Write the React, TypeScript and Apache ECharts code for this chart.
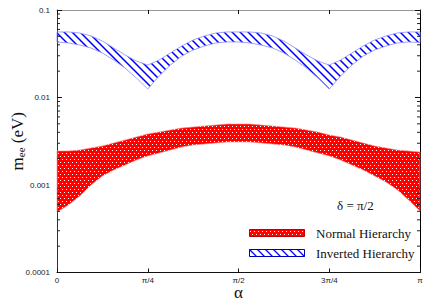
import React, { useEffect, useRef } from "react";
import * as echarts from "echarts";

// alpha in units of pi
const alphaOverPi = [
  0, 0.03125, 0.0625, 0.09375, 0.125, 0.15625, 0.1875, 0.21875, 0.25,
  0.28125, 0.3125, 0.34375, 0.375, 0.40625, 0.4375, 0.46875, 0.5,
  0.53125, 0.5625, 0.59375, 0.625, 0.65625, 0.6875, 0.71875, 0.75,
  0.78125, 0.8125, 0.84375, 0.875, 0.90625, 0.9375, 0.96875, 1,
];

const xTickLabels = ["0", "π/4", "π/2", "3π/4", "π"];
const yTickLabels = ["0.0001", "0.001", "0.01", "0.1"];

const minorTickValues = [
  0.0002, 0.0003, 0.0004, 0.0005, 0.0006, 0.0007, 0.0008, 0.0009,
  0.002, 0.003, 0.004, 0.005, 0.006, 0.007, 0.008, 0.009,
  0.02, 0.03, 0.04, 0.05, 0.06, 0.07, 0.08, 0.09,
];

// Normal hierarchy band (eV)
const nhUpper = [
  0.00245, 0.00245, 0.00251, 0.00265, 0.00279, 0.00302, 0.00327, 0.00354, 0.00383,
  0.00403, 0.00425, 0.00448, 0.0046, 0.00473, 0.00485, 0.00498, 0.00498,
  0.00498, 0.00485, 0.00473, 0.0046, 0.00448, 0.00425, 0.00403, 0.00373,
  0.00354, 0.00327, 0.00302, 0.00279, 0.00265, 0.00251, 0.00245, 0.00238,
];
const nhLower = [
  0.000491, 0.00059, 0.000748, 0.001, 0.00127, 0.00148, 0.00169, 0.00193, 0.00215,
  0.00232, 0.00251, 0.00272, 0.00286, 0.00294, 0.00302, 0.0031, 0.0031,
  0.0031, 0.00302, 0.00294, 0.00286, 0.00272, 0.00251, 0.00232, 0.00215,
  0.00193, 0.00169, 0.00148, 0.00127, 0.00108, 0.00088, 0.000674, 0.000505,
];

// Inverted hierarchy band (eV)
const ihUpper = [
  0.0561, 0.0561, 0.0546, 0.0505, 0.0442, 0.0368, 0.0306, 0.0261, 0.0235,
  0.0268, 0.0323, 0.0388, 0.0454, 0.0505, 0.0546, 0.0561, 0.0561,
  0.0561, 0.0546, 0.0505, 0.0442, 0.0368, 0.0306, 0.0261, 0.0235,
  0.0268, 0.0323, 0.0388, 0.0454, 0.0505, 0.0546, 0.0561, 0.0561,
];
const ihLower = [
  0.0431, 0.042, 0.0398, 0.0368, 0.0323, 0.0268, 0.0217, 0.0167, 0.0125,
  0.0176, 0.0235, 0.0298, 0.0349, 0.0388, 0.042, 0.0431, 0.0431,
  0.042, 0.0398, 0.0368, 0.0323, 0.0268, 0.0217, 0.0167, 0.0125,
  0.0176, 0.0235, 0.0298, 0.0349, 0.0388, 0.042, 0.0431, 0.0425,
];

const SERIF = '"Liberation Serif", "Times New Roman", serif';
const SANS = '"Liberation Sans", Arial, sans-serif';
const RED = "#ff0000";
const DOT = "#ffffff";
const BLUE = "#0000ff";
const HATCH = 8;

// white dots (small squares) covering a box, diagonal lattice
function dotSquares(x0: number, x1: number, y0: number, y1: number, z?: number) {
  const out: any[] = [];
  const sy = Math.floor(y0 / 3) * 3;
  for (let y = sy; y <= y1; y += 3) {
    const shift = (y / 3) % 2 === 0 ? 0 : 2;
    const sx = Math.floor(x0 / 4) * 4 + shift;
    for (let x = sx; x <= x1; x += 4) {
      const el: any = { type: "rect", shape: { x, y, width: 1, height: 1 }, style: { fill: DOT } };
      if (z != null) el.z = z;
      out.push(el);
    }
  }
  return out;
}

// "\" hatch lines covering a box (to be clipped)
function hatchLines(x0: number, x1: number, y0: number, y1: number) {
  const out: any[] = [];
  const cMin = Math.floor((x0 - y1) / HATCH) * HATCH;
  const cMax = x1 - y0;
  for (let c = cMin; c <= cMax; c += HATCH) {
    out.push({
      type: "line",
      shape: { x1: c + y0 - 2, y1: y0 - 2, x2: c + y1 + 2, y2: y1 + 2 },
      style: { stroke: BLUE, lineWidth: 1.5 },
    });
  }
  return out;
}

function bandRenderer(xs: number[], upper: number[], lower: number[], kind: "dots" | "hatch") {
  return (params: any, api: any) => {
    if (params.dataIndex !== 0) return null;
    const pts: number[][] = [];
    for (let i = 0; i < xs.length; i++) pts.push(api.coord([xs[i], upper[i]]));
    for (let i = xs.length - 1; i >= 0; i--) pts.push(api.coord([xs[i], lower[i]]));
    let bx0 = Infinity, bx1 = -Infinity, by0 = Infinity, by1 = -Infinity;
    for (const p of pts) {
      bx0 = Math.min(bx0, p[0]); bx1 = Math.max(bx1, p[0]);
      by0 = Math.min(by0, p[1]); by1 = Math.max(by1, p[1]);
    }
    const clip = { type: "polygon", shape: { points: pts } };
    if (kind === "dots") {
      return {
        type: "group",
        children: [
          { type: "polygon", shape: { points: pts }, style: { fill: RED, stroke: "#ff8a8a", lineWidth: 0.6 } },
          { type: "group", clipPath: clip, children: dotSquares(bx0, bx1, by0, by1) },
        ],
      };
    }
    return {
      type: "group",
      children: [
        { type: "group", clipPath: clip, children: hatchLines(bx0, bx1, by0, by1) },
        { type: "polygon", shape: { points: pts }, style: { fill: "none", stroke: "#8c8cff", lineWidth: 0.8 } },
      ],
    };
  };
}

function clippedHatch(x0: number, y0: number, w: number, h: number) {
  const out: any[] = [];
  const x1 = x0 + w, y1 = y0 + h;
  const cMin = Math.floor((x0 - y1) / HATCH) * HATCH;
  for (let c = cMin; c <= x1 - y0; c += HATCH) {
    const sx = Math.max(x0, y0 + c);
    const ex = Math.min(x1, y1 + c);
    if (ex <= sx) continue;
    out.push({
      type: "line",
      shape: { x1: sx, y1: sx - c, x2: ex, y2: ex - c },
      style: { stroke: BLUE, lineWidth: 1.3 },
      z: 10,
    });
  }
  return out;
}

export default function App() {
  const ref = useRef<HTMLDivElement>(null);

  useEffect(() => {
    if (!ref.current) return;
    const chart = echarts.init(ref.current, undefined, { renderer: "svg" });

    const tickStyle = { color: "#111", width: 1 };

    chart.setOption({
      animation: false,
      grid: { left: 57, right: 16, top: 10, bottom: 27.5, containLabel: false, outerBoundsMode: "none" },
      xAxis: [
        {
          type: "value",
          min: 0,
          max: 1,
          interval: 0.25,
          position: "bottom",
          axisLine: { show: true, onZero: false, lineStyle: { color: "#111", width: 1 } },
          axisTick: { show: true, inside: true, length: 4, lineStyle: tickStyle },
          axisLabel: {
            formatter: (v: number) => xTickLabels[Math.round(v * 4)],
            fontSize: 8,
            fontFamily: SANS,
            color: "#222",
            margin: 4,
          },
          splitLine: { show: false },
          name: "α",
          nameLocation: "middle",
          nameGap: 14,
          nameMoveOverlap: false,
          nameTextStyle: { fontFamily: SERIF, fontSize: 17, lineHeight: 12, color: "#111" },
        },
        {
          type: "value",
          min: 0,
          max: 1,
          interval: 0.25,
          position: "top",
          axisLine: { show: true, onZero: false, lineStyle: { color: "#999", width: 1 } },
          axisTick: { show: true, inside: true, length: 4, lineStyle: tickStyle },
          axisLabel: { show: false },
          splitLine: { show: false },
        },
      ],
      yAxis: [
        {
          type: "log",
          logBase: 10,
          min: 0.0001,
          max: 0.1,
          position: "left",
          axisLine: { show: true, onZero: false, lineStyle: { color: "#333", width: 1 } },
          axisTick: { show: true, inside: true, length: 5, lineStyle: tickStyle },
          axisLabel: {
            formatter: (v: number) => yTickLabels[Math.round(Math.log10(v)) + 4],
            fontSize: 8,
            fontFamily: SANS,
            color: "#222",
            margin: 7,
          },
          splitLine: { show: false },
          name: "{m|m}{s|ee}{m| (eV)}",
          nameLocation: "middle",
          nameRotate: 90,
          nameGap: 31,
          nameMoveOverlap: false,
          nameTextStyle: {
            rich: {
              m: { fontFamily: SERIF, fontSize: 17, color: "#111", lineHeight: 17 },
              s: { fontFamily: SERIF, fontSize: 11, color: "#111", lineHeight: 7, verticalAlign: "bottom" },
            },
          },
        },
        {
          type: "log",
          logBase: 10,
          min: 0.0001,
          max: 0.1,
          position: "right",
          axisLine: { show: true, onZero: false, lineStyle: { color: "#000", width: 1 } },
          axisTick: { show: true, inside: true, length: 5, lineStyle: tickStyle },
          axisLabel: { show: false },
          splitLine: { show: false },
        },
      ],
      series: [
        {
          type: "custom",
          name: "Normal Hierarchy",
          xAxisIndex: 0,
          yAxisIndex: 0,
          data: alphaOverPi.map((a, i) => [a, nhLower[i], nhUpper[i]]),
          encode: { x: 0, y: [1, 2] },
          renderItem: bandRenderer(alphaOverPi, nhUpper, nhLower, "dots"),
          silent: true,
          z: 2,
        },
        {
          type: "custom",
          name: "Inverted Hierarchy",
          xAxisIndex: 0,
          yAxisIndex: 0,
          data: alphaOverPi.map((a, i) => [a, ihLower[i], ihUpper[i]]),
          encode: { x: 0, y: [1, 2] },
          renderItem: bandRenderer(alphaOverPi, ihUpper, ihLower, "hatch"),
          silent: true,
          z: 2,
        },
        {
          type: "custom",
          name: "minorTicks",
          xAxisIndex: 0,
          yAxisIndex: 0,
          data: minorTickValues.map((v) => [0, v]),
          renderItem: (params: any, api: any) => {
            const v = api.value(1);
            const l = api.coord([0, v]);
            const r = api.coord([1, v]);
            return {
              type: "group",
              children: [
                { type: "line", shape: { x1: l[0], y1: l[1], x2: l[0] + 3, y2: l[1] }, style: { stroke: "#222", lineWidth: 1 } },
                { type: "line", shape: { x1: r[0] - 3, y1: r[1], x2: r[0], y2: r[1] }, style: { stroke: "#222", lineWidth: 1 } },
              ],
            };
          },
          silent: true,
          z: 5,
        },
      ],
      graphic: [
        {
          type: "rect",
          shape: { x: 249.5, y: 229.5, width: 55, height: 7 },
          style: { fill: RED, stroke: "#c00000", lineWidth: 1 },
          z: 10,
        },
        ...dotSquares(251, 303, 231, 235, 11),
        {
          type: "rect",
          shape: { x: 249.5, y: 249.5, width: 55, height: 7 },
          style: { fill: "#fff", stroke: "#0000b0", lineWidth: 1 },
          z: 10,
        },
        ...clippedHatch(249.5, 249.5, 55, 7),
        {
          type: "text",
          x: 316,
          y: 233,
          style: { text: "Normal Hierarchy", fontFamily: SERIF, fontSize: 13, fill: "#111", align: "left", verticalAlign: "middle" },
          z: 10,
        },
        {
          type: "text",
          x: 316,
          y: 253,
          style: { text: "Inverted Hierarchy", fontFamily: SERIF, fontSize: 13, fill: "#111", align: "left", verticalAlign: "middle" },
          z: 10,
        },
        {
          type: "text",
          x: 337,
          y: 205,
          style: { text: "δ = π/2", fontFamily: SERIF, fontSize: 13, fill: "#111", align: "left", verticalAlign: "middle" },
          z: 10,
        },
      ],
    });

    return () => chart.dispose();
  }, []);

  return (
    <div
      ref={ref}
      style={{ position: "fixed", left: 0, top: 0, width: 436, height: 300, background: "#fff" }}
    />
  );
}
